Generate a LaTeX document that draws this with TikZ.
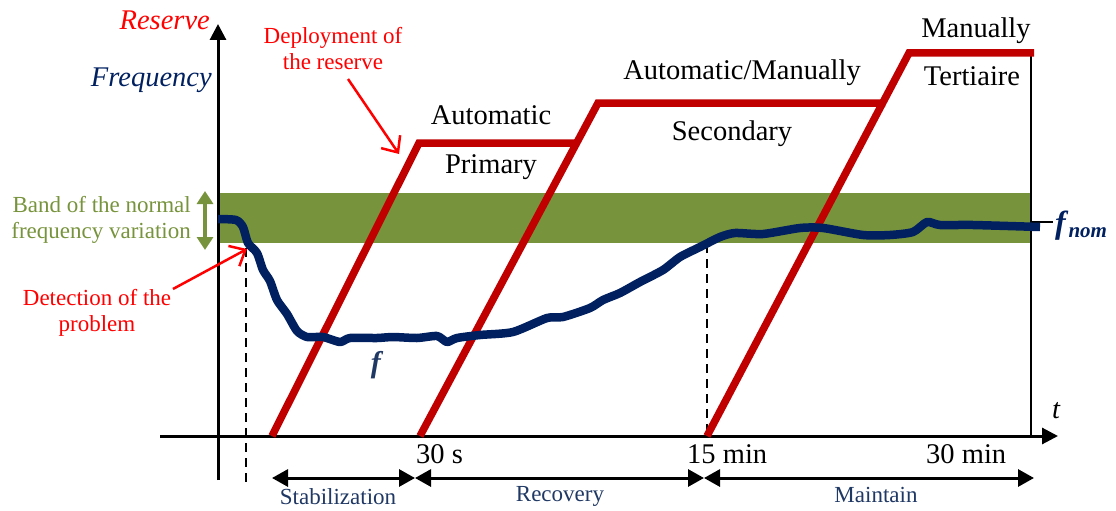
\documentclass[tikz,border=0pt]{standalone}
\usepackage{fontspec}
\setmainfont{Liberation Serif}
\usetikzlibrary{arrows.meta}
\definecolor{resred}{HTML}{C00000}
\definecolor{txtred}{HTML}{FF0000}
\definecolor{fblue}{HTML}{002060}
\definecolor{lblblue}{HTML}{1F3864}
\definecolor{bandgreen}{HTML}{77933C}
\tikzset{
  big/.style={font=\fontsize{28.5}{31}\selectfont, inner sep=0pt},
  mid/.style={font=\fontsize{23}{26}\selectfont, inner sep=0pt, align=center},
  reserveline/.style={draw=resred, line width=7.5pt, line join=miter},
  axisline/.style={draw=black, line width=3pt, -{Triangle[length=16pt,width=16pt]}},
  spanarrow/.style={draw=black, line width=3pt, {Triangle[length=16pt,width=17pt]}-{Triangle[length=16pt,width=17pt]}},
  annot/.style={draw=txtred, line width=2.5pt, -{Straight Barb[length=13pt,width=23pt,line width=2.5pt]}},
  dashline/.style={draw=black, line width=2.5pt, dash pattern=on 9pt off 6pt},
}
\begin{document}
\begin{tikzpicture}[x=1pt,y=-1pt]
\useasboundingbox (0,0) rectangle (1116,511);
% band
\fill[bandgreen] (218,193) rectangle (1031,243);
% dashed lines
\coordinate (d1t) at (246,248); \coordinate (d1b) at (246,486);
\coordinate (d2t) at (707,244); \coordinate (d2b) at (707,436);
\draw[dashline] (d1t) -- (d1b);
\draw[dashline] (d2t) -- (d2b);
% axes
\coordinate (vb) at (218,480); \coordinate (vt) at (218,24);
\coordinate (hl) at (160,436); \coordinate (hr) at (1058,436);
\draw[axisline] (vb) -- (vt);
\draw[axisline] (hl) -- (hr);
% right vertical line
\coordinate (rt) at (1031,53); \coordinate (rb) at (1031,436);
\draw[line width=2pt] (rt) -- (rb);
% reserve lines
\coordinate (p0) at (272,436); \coordinate (p1) at (419,143); \coordinate (p2) at (578,143);
\coordinate (s0) at (420,436); \coordinate (s1) at (598,103); \coordinate (s2) at (885,103);
\coordinate (t0) at (707,436); \coordinate (t1) at (909,53); \coordinate (t2) at (1034,53);
\draw[reserveline] (p0) -- (p1) -- (p2);
\draw[reserveline] (s0) -- (s1) -- (s2);
\draw[reserveline] (t0) -- (t1) -- (t2);
% green double arrow
\coordinate (ga) at (205,191); \coordinate (gb) at (205,250);
\draw[draw=bandgreen, line width=3.5pt, {Triangle[length=13pt,width=16pt]}-{Triangle[length=13pt,width=16pt]}] (ga) -- (gb);
% fnom tick
\coordinate (ft0) at (1031,222); \coordinate (ft1) at (1053,222);
\draw[line width=2pt] (ft0) -- (ft1);
% frequency curve
\draw[fblue, line width=8.5pt, line join=round] plot[smooth, tension=0.4] coordinates {
(218,219) (236,220) (243,227) (248,243) (257,253) (263,270) (270,281) (277,300) (287,314) (297,331) (307,337) (323,337) (340,342) (350,338) (377,338) (393,337) (417,338) (437,336) (447,342) (457,338) (480,335) (513,332) (547,318) (563,317) (590,308) (603,300) (620,293) (640,282) (663,270) (680,257) (700,247) (720,237) (735,233) (763,234) (800,228) (823,228) (863,235) (890,235) (913,232) (927,222) (940,225) (973,225) (1040,227)};
% axis texts
\node[big, anchor=east, text=txtred] (reserve) at (210,20) {\textit{Reserve}};
\node[big, anchor=east, text=fblue] (freq) at (212,80) {\textit{Frequency}};
\node[big, anchor=base west] (t) at (1052,418) {\textit{t}};
\node[big, anchor=base west] (l30s) at (416,463) {30 s};
\node[big, anchor=base west] (l15) at (687,463) {15 min};
\node[big, anchor=base west] (l30m) at (926,463) {30 min};
% reserve labels
\node[big] (auto) at (491,115) {Automatic};
\node[big] (prim) at (491,167) {Primary};
\node[big] (automan) at (742,73) {Automatic/Manually};
\node[big] (sec) at (732,134) {Secondary};
\node[big] (man) at (976,31) {Manually};
\node[big] (tert) at (972,76) {Tertiaire};
% f labels
\node[font=\fontsize{30}{32}\selectfont, text=lblblue, inner sep=0pt] (f) at (377,365) {\textbf{\textit{f}}};
\node[anchor=base west, inner sep=0pt, text=fblue] (fnom) at (1055,233) {\fontsize{32}{34}\selectfont\textbf{\textit{f}}\fontsize{21}{22}\selectfont\raisebox{-4pt}{\textbf{\textit{nom}}}};
% green band text
\node[mid, text=bandgreen, anchor=east, align=right, font=\fontsize{23}{26.5}\selectfont] (band) at (191,220) {Band of the normal\\frequency variation};
% red annotations
\node[mid, text=txtred] (deploy) at (333,49) {Deployment of\\the reserve};
\node[mid, text=txtred] (detect) at (97,313) {Detection of the\\problem};
\coordinate (da0) at (348,79); \coordinate (da1) at (399,154);
\draw[annot] (da0) -- (da1);
\coordinate (ea0) at (173,289); \coordinate (ea1) at (247,249);
\draw[annot] (ea0) -- (ea1);
% bottom span arrows
\coordinate (b0) at (272,478); \coordinate (b1) at (415,478);
\coordinate (b2) at (704,478); \coordinate (b3) at (1034,478);
\draw[spanarrow] (b0) -- (b1);
\draw[spanarrow] (b1) -- (b2);
\draw[spanarrow] (b2) -- (b3);
\node[mid, text=lblblue] (stab) at (338,497) {Stabilization};
\node[mid, text=lblblue] (recov) at (560,496) {Recovery};
\node[mid, text=lblblue] (maint) at (876,495) {Maintain};
\end{tikzpicture}
\end{document}
